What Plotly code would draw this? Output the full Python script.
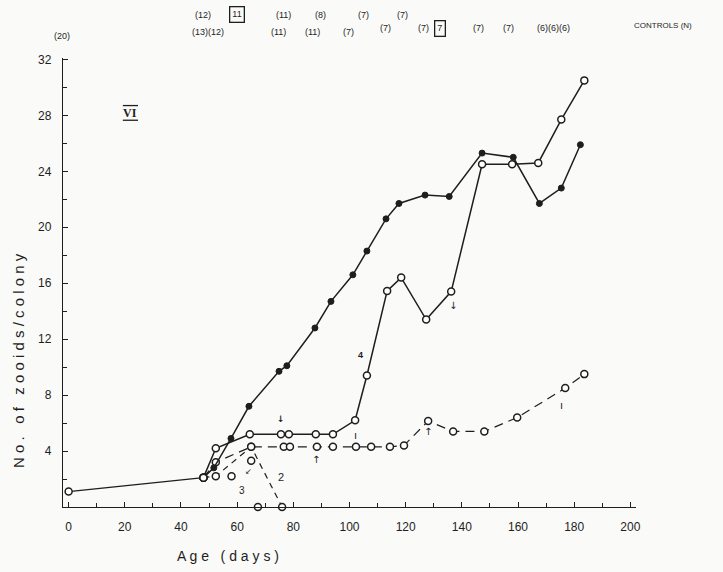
import plotly.graph_objects as go

# ---------------- data ----------------
start_x = [0, 48]
start_y = [1.1, 2.1]

filled_x = [48, 51.7, 57.8, 64.2, 74.9, 77.7, 87.7, 93.4, 101.2, 106.2, 113, 117.6, 126.9, 135.5, 147.2, 158.3, 167.6, 175.4, 182.2]
filled_y = [2.1, 2.8, 4.9, 7.2, 9.7, 10.1, 12.8, 14.7, 16.6, 18.3, 20.6, 21.7, 22.3, 22.2, 25.3, 25.0, 21.7, 22.8, 25.9]

s4_x = [48, 52.4, 64.5, 75.6, 78.4, 88, 94.1, 102, 106.2, 113.4, 118.4, 127.3, 136.2, 147.2, 157.9, 167.2, 175.4, 183.6]
s4_y = [2.1, 4.2, 5.2, 5.2, 5.2, 5.2, 5.2, 6.2, 9.4, 15.45, 16.4, 13.4, 15.4, 24.5, 24.5, 24.6, 27.7, 30.5]

s1_x = [48, 52.4, 65, 76.6, 78.8, 88.4, 94.1, 102.3, 107.7, 114.4, 119.4, 128, 136.9, 148, 159.7, 176.8, 183.6]
s1_y = [2.1, 3.2, 4.3, 4.3, 4.3, 4.3, 4.3, 4.3, 4.3, 4.3, 4.4, 6.15, 5.4, 5.4, 6.4, 8.5, 9.5]

s2_x = [48, 52.4, 65, 76]
s2_y = [2.1, 2.2, 4.3, 0]

s3_x = [58, 65, 67.4]
s3_y = [2.2, 3.3, 0]

top_row1 = ["(12)", "(11)", "(8)", "(7)", "(7)"]
top_row2 = ["(20)", "(13)(12)", "(11)", "(11)", "(7)", "(7)", "(7)", "(7)", "(7)", "(6)(6)(6)", "CONTROLS (N)"]

x_ticks = list(range(0, 201, 20))
y_ticks = list(range(4, 33, 4))

# ---------------- figure ----------------
INK = "#1e1e1e"
W, H = 723, 572
ML, MR, MT, MB = 63, 87, 58, 65
PW, PH = W - ML - MR, H - MT - MB

fig = go.Figure()

open_marker = dict(symbol="circle", size=7, color="white", line=dict(color=INK, width=1.5))
filled_marker = dict(symbol="circle", size=6, color=INK, line=dict(color=INK, width=1))

fig.add_trace(go.Scatter(x=s2_x, y=s2_y, mode="lines+markers", line=dict(color=INK, width=1.2, dash="6px,5px"),
                         marker=open_marker, cliponaxis=False, showlegend=False))
fig.add_trace(go.Scatter(x=s3_x, y=s3_y, mode="markers", marker=open_marker, cliponaxis=False, showlegend=False))
fig.add_trace(go.Scatter(x=s1_x, y=s1_y, mode="lines+markers", line=dict(color=INK, width=1.2, dash="9px,6px"),
                         marker=open_marker, cliponaxis=False, showlegend=False))
fig.add_trace(go.Scatter(x=filled_x, y=filled_y, mode="lines+markers", line=dict(color=INK, width=1.5),
                         marker=filled_marker, cliponaxis=False, showlegend=False))
fig.add_trace(go.Scatter(x=s4_x, y=s4_y, mode="lines+markers", line=dict(color=INK, width=1.5),
                         marker=open_marker, cliponaxis=False, showlegend=False))
fig.add_trace(go.Scatter(x=start_x, y=start_y, mode="lines+markers", line=dict(color=INK, width=1.3),
                         marker=open_marker, cliponaxis=False, showlegend=False))

FONT = "Liberation Sans, Arial, sans-serif"
SYM = "DejaVu Sans"
ann = []
def txt(x, y, t, size=10, xref="x", yref="y", family=FONT, **kw):
    ann.append(dict(x=x, y=y, xref=xref, yref=yref, text=t, showarrow=False,
                    font=dict(family=family, size=size, color=INK), **kw))

def px(xp, yp, t, size=9, **kw):
    txt((xp - ML) / PW, (H - MB - yp) / PH, t, size=size, xref="paper", yref="paper",
        xanchor="center", yanchor="middle", **kw)

row1_x = [203, 283, 320, 363, 402]
for xp, t in zip(row1_x, top_row1):
    px(xp, 15, t)
row2_x = [62, 208, 278, 312, 348, 385, 423, 478, 508, 553, 663]
row2_y = [36, 32, 32, 32, 32, 28, 28, 28, 28, 28, 26]
for xp, yp, t in zip(row2_x, row2_y, top_row2):
    px(xp, yp, t, size=9 if t != "CONTROLS (N)" else 8)
# boxed numbers
px(237, 15, "11", bordercolor=INK, borderwidth=1.3, borderpad=2)
px(440, 28, "7", bordercolor=INK, borderwidth=1.3, borderpad=2)

# roman numeral
txt(22, 28.2, "<b>VI</b>", size=12, family="Liberation Serif")
fig.add_shape(type="line", x0=19.3, x1=24.7, y0=28.7, y1=28.7, line=dict(color=INK, width=1.3))
fig.add_shape(type="line", x0=19.3, x1=24.7, y0=27.65, y1=27.65, line=dict(color=INK, width=1.3))

# series labels & arrows
txt(104, 10.9, "<b>4</b>", size=9)
txt(75.6, 2.15, "2", size=11)
txt(61.7, 1.2, "3", size=10)
txt(175.4, 7.3, "ı", size=11)
txt(75.5, 6.3, "<b>↓</b>", size=9, family=SYM)
txt(102, 5.15, "ı", size=11)
txt(88, 3.4, "↑", size=10, family=SYM)
txt(128, 5.4, "↑", size=10, family=SYM)
txt(137, 14.4, "↓", size=10, family=SYM)
txt(64.2, 2.55, "↙", size=8, family=SYM)

# axis titles
px(228, 556, "A g e   ( d a y s )", size=14)
px(18, 361, "N o .  &nbsp;o f  &nbsp;z o o i d s / c o l o n y", size=15, textangle=-90)

fig.update_layout(
    width=W, height=H,
    margin=dict(l=ML, r=MR, t=MT, b=MB),
    paper_bgcolor="#fafaf8", plot_bgcolor="#fafaf8",
    annotations=ann,
    xaxis=dict(range=[-2, 202], showgrid=False, zeroline=False, showline=True, linecolor=INK, linewidth=1.3,
               tickmode="array", tickvals=x_ticks, ticktext=[str(v) for v in x_ticks],
               ticks="inside", ticklen=5, tickwidth=1.2, tickcolor=INK, ticklabelstandoff=8,
               minor=dict(tickvals=list(range(10, 200, 20)), ticks="inside", ticklen=4, tickwidth=1.2, tickcolor=INK),
               tickfont=dict(family=FONT, size=12, color=INK)),
    yaxis=dict(range=[0, 32.1], showgrid=False, zeroline=False, showline=True, linecolor=INK, linewidth=1.3,
               tickmode="array", tickvals=y_ticks, ticktext=[str(v) for v in y_ticks],
               ticks="inside", ticklen=5, tickwidth=1.2, tickcolor=INK, ticklabelstandoff=8,
               minor=dict(tickvals=list(range(2, 32, 4)), ticks="inside", ticklen=4, tickwidth=1.2, tickcolor=INK),
               tickfont=dict(family=FONT, size=12, color=INK)),
)

fig.write_html("out.html")
